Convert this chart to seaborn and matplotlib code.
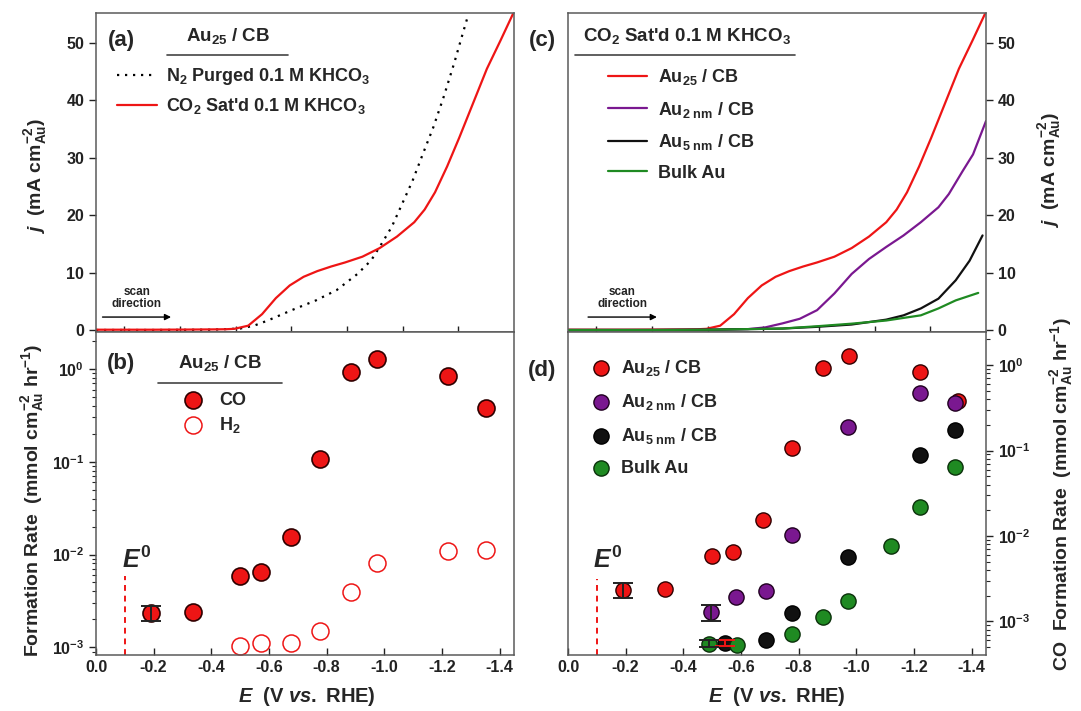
import numpy as np
import matplotlib
matplotlib.use("Agg")
import matplotlib.pyplot as plt
from matplotlib.ticker import FuncFormatter, NullFormatter, LogLocator
import seaborn as sns

# ---------------- data ----------------
# (a)/(c) Au25/CB in CO2-saturated KHCO3
E_au25 = [0.0, -0.1, -0.2, -0.3, -0.4, -0.45, -0.48, -0.528, -0.576, -0.624, -0.672, -0.72,
          -0.768, -0.816, -0.864, -0.924, -0.984, -1.044, -1.104, -1.14, -1.176, -1.218,
          -1.26, -1.308, -1.356, -1.404, -1.446]
j_au25 = [0.1, 0.1, 0.1, 0.12, 0.15, 0.18, 0.25, 0.8, 2.8, 5.6, 7.8, 9.3,
          10.3, 11.1, 11.8, 12.8, 14.3, 16.3, 18.8, 21.0, 24.0, 28.5,
          33.5, 39.5, 45.5, 50.5, 55.0]
# (a) Au25/CB in N2-purged KHCO3
E_n2 = [0.0, -0.2, -0.4, -0.5, -0.548, -0.596, -0.679, -0.763, -0.835, -0.907, -0.955,
        -0.990, -1.026, -1.062, -1.098, -1.134, -1.170, -1.206, -1.242, -1.272, -1.292]
j_n2 = [0.05, 0.05, 0.1, 0.3, 0.8, 1.7, 3.5, 5.2, 7.0, 9.8, 12.2,
        15.0, 18.0, 22.0, 26.0, 30.7, 35.3, 40.6, 46.4, 51.6, 55.0]
# (c) other catalysts
E_2nm = [0.0, -0.3, -0.5, -0.624, -0.684, -0.744, -0.804, -0.864, -0.924, -0.984, -1.044,
         -1.104, -1.164, -1.224, -1.285, -1.321, -1.369, -1.405, -1.45]
j_2nm = [0.05, 0.05, 0.1, 0.2, 0.5, 1.2, 2.0, 3.5, 6.4, 9.8, 12.4,
         14.5, 16.5, 18.8, 21.4, 23.7, 27.7, 30.6, 36.4]
E_5nm = [0.0, -0.3, -0.5, -0.624, -0.744, -0.864, -0.984, -1.104, -1.164, -1.224, -1.285,
         -1.345, -1.393, -1.438]
j_5nm = [0.05, 0.05, 0.1, 0.2, 0.3, 0.6, 1.0, 1.85, 2.6, 3.8, 5.5, 8.7, 12.1, 16.5]
E_bulk = [0.0, -0.3, -0.5, -0.744, -0.864, -0.984, -1.104, -1.224, -1.285, -1.345, -1.423]
j_bulk = [0.05, 0.05, 0.1, 0.3, 0.7, 1.15, 1.7, 2.6, 3.8, 5.2, 6.5]

# (b)/(d) formation rates
E_co = [-0.19, -0.337, -0.498, -0.574, -0.676, -0.776, -0.884, -0.974, -1.22, -1.352]
CO_au25 = [2.32e-3, 2.42e-3, 5.87e-3, 6.5e-3, 1.53e-2, 0.107, 0.936, 1.27, 0.83, 0.377]
E_h2 = [-0.498, -0.574, -0.676, -0.776, -0.884, -0.974, -1.22, -1.352]
H2_au25 = [1.03e-3, 1.12e-3, 1.12e-3, 1.5e-3, 3.98e-3, 8.17e-3, 1.10e-2, 1.12e-2]
err_au25 = [1.9e-3, 2.8e-3]  # low, high of first point

E_co2nm = [-0.496, -0.583, -0.686, -0.777, -0.972, -1.222, -1.341]
CO_2nm = [1.28e-3, 1.91e-3, 2.25e-3, 1.02e-2, 0.188, 0.473, 0.36]
err_2nm = [1.02e-3, 1.54e-3]
E_co5nm = [-0.545, -0.686, -0.777, -0.972, -1.222, -1.341]
CO_5nm = [5.66e-4, 6.08e-4, 1.25e-3, 5.66e-3, 8.9e-2, 0.175]
err_5nm = [5.2e-4, 6.1e-4]
E_cobulk = [-0.49, -0.585, -0.777, -0.886, -0.972, -1.12, -1.222, -1.341]
CO_bulk = [5.46e-4, 5.31e-4, 7.1e-4, 1.12e-3, 1.75e-3, 7.6e-3, 2.19e-2, 6.37e-2]
err_bulk = [5.0e-4, 6.0e-4]

E0 = -0.10
x_ticks = [0.0, -0.2, -0.4, -0.6, -0.8, -1.0, -1.2, -1.4]
x_ticks_top = [-0.097, -0.291, -0.484, -0.677, -0.871, -1.064, -1.256]
j_ticks = [0, 10, 20, 30, 40, 50]

# ---------------- style ----------------
sns.set_theme(style="ticks")
plt.rcParams['font.family'] = ['Liberation Sans', 'DejaVu Sans']
plt.rcParams['font.weight'] = 'bold'
plt.rcParams['axes.unicode_minus'] = False
plt.rcParams['mathtext.fontset'] = 'custom'
plt.rcParams['mathtext.rm'] = 'Liberation Sans:bold'
plt.rcParams['mathtext.bf'] = 'Liberation Sans:bold'
plt.rcParams['mathtext.it'] = 'Liberation Sans:italic:bold'
plt.rcParams['mathtext.default'] = 'bf'

RED = '#ee1515'
PURPLE = '#7a1890'
BLACK = '#111111'
GREEN = '#1f8a22'
SPINE = '#5a5a5a'

W, H = 1081, 711
fig = plt.figure(figsize=(W / 100, H / 100), dpi=100)
fig.patch.set_facecolor('white')


def ax_at(x0, y0, x1, y1):
    return fig.add_axes([x0 / W, 1 - y1 / H, (x1 - x0) / W, (y1 - y0) / H])


axA = ax_at(96, 13, 514, 332)
axB = ax_at(96, 332, 514, 655)
axC = ax_at(568, 13, 986, 332)
axD = ax_at(568, 332, 986, 655)

for ax in (axA, axB, axC, axD):
    for s in ax.spines.values():
        s.set_color(SPINE)
        s.set_linewidth(1.1)
        s.set_zorder(5)
    ax.set_xlim(0, -1.45)
    ax.tick_params(colors='#222222', labelsize=11.5, width=1, length=5)

logfmt = FuncFormatter(lambda v, p: r"$\mathbf{10^{%d}}$" % int(round(np.log10(v))))

# ---- (a) ----
sns.lineplot(x=E_n2, y=j_n2, ax=axA, color='black', lw=1.6, linestyle=(0, (1, 2.6)),
             label=r'N$_2$ Purged 0.1 M KHCO$_3$', sort=False)
sns.lineplot(x=E_au25, y=j_au25, ax=axA, color=RED, lw=1.6,
             label=r"CO$_2$ Sat'd 0.1 M KHCO$_3$", sort=False)
axA.set_ylim(-0.3, 55.2)
axA.set_yticks(j_ticks)
axA.set_xticks(x_ticks_top)
axA.tick_params(axis='x', direction='inout', labelbottom=False, length=8)
axA.legend(loc='upper left', bbox_to_anchor=(0.05, 0.833), frameon=False, fontsize=13,
           handlelength=2.2, handletextpad=0.5, labelspacing=0.5, borderpad=0, borderaxespad=0)
axA.text(0.06, 0.915, '(a)', transform=axA.transAxes, fontsize=16, ha='center', va='center')
axA.text(0.316, 0.928, r'Au$_{25}$ / CB', transform=axA.transAxes, fontsize=13.5,
         ha='center', va='center')
axA.plot([0.17, 0.459], [0.868, 0.868], transform=axA.transAxes, color='#444444', lw=1.2)

# ---- (c) ----
sns.lineplot(x=E_au25, y=j_au25, ax=axC, color=RED, lw=1.6, label=r'Au$_{25}$ / CB', sort=False)
sns.lineplot(x=E_2nm, y=j_2nm, ax=axC, color=PURPLE, lw=1.6, label=r'Au$_{2\ nm}$ / CB', sort=False)
sns.lineplot(x=E_5nm, y=j_5nm, ax=axC, color=BLACK, lw=1.6, label=r'Au$_{5\ nm}$ / CB', sort=False)
sns.lineplot(x=E_bulk, y=j_bulk, ax=axC, color=GREEN, lw=1.6, label='Bulk Au', sort=False)
axC.set_ylim(-0.3, 55.2)
axC.set_yticks(j_ticks)
axC.yaxis.tick_right()
axC.set_xticks(x_ticks_top)
axC.tick_params(axis='x', direction='inout', labelbottom=False, length=8)
axC.legend(loc='upper left', bbox_to_anchor=(0.095, 0.83), frameon=False, fontsize=13,
           handlelength=2.2, handletextpad=0.6, labelspacing=0.69, borderpad=0, borderaxespad=0)
axC.text(-0.062, 0.915, '(c)', transform=axC.transAxes, fontsize=16, ha='center', va='center')
axC.text(0.285, 0.928, r"CO$_2$ Sat'd 0.1 M KHCO$_3$", transform=axC.transAxes, fontsize=13.5,
         ha='center', va='center')
axC.plot([0.017, 0.543], [0.868, 0.868], transform=axC.transAxes, color='#444444', lw=1.2)

# scan direction arrows
for ax, x0, x1 in ((axA, -0.013, -0.27), (axC, -0.06, -0.318)):
    ax.annotate('', xy=(x1, 2.3), xytext=(x0, 2.3),
                arrowprops=dict(arrowstyle='-|>', color='black', lw=1.0, mutation_scale=9))
    ax.text((x0 + x1) / 2, 5.6, 'scan\ndirection', fontsize=8.5, ha='center', va='center',
            linespacing=1.05, color='#222222')

# ---- (b) ----
axB.set_yscale('log')
axB.errorbar(E_co[0], CO_au25[0], yerr=[[CO_au25[0] - err_au25[0]], [err_au25[1] - CO_au25[0]]],
             fmt='none', ecolor='#222222', capsize=7, elinewidth=1.4, capthick=1.4, zorder=4)
sns.scatterplot(x=E_co, y=CO_au25, ax=axB, s=150, color=RED, edgecolor='#300000',
                linewidth=1.2, label='CO', zorder=3)
sns.scatterplot(x=E_h2, y=H2_au25, ax=axB, s=150, facecolor='white', edgecolor=RED,
                linewidth=1.1, label=r'H$_2$', zorder=3)
axB.set_ylim(8.26e-4, 2.5)
axB.set_xlim(0, -1.45)
axB.set_xticks(x_ticks)
axB.xaxis.set_major_formatter(FuncFormatter(lambda v, p: '0.0' if abs(v) < 1e-9 else '%.1f' % v))
axB.yaxis.set_major_locator(LogLocator(base=10, numticks=10))
axB.yaxis.set_major_formatter(logfmt)
axB.yaxis.set_minor_formatter(NullFormatter())
axB.tick_params(axis='x', direction='in', length=5)
axB.tick_params(axis='y', which='minor', length=3, width=0.8)
axB.plot([E0, E0], [8.26e-4, 5.8e-3], ls=(0, (3, 2.5)), color=RED, lw=1.4)
axB.text(E0 - 0.04, 8.7e-3, r'$\mathit{E}^{\mathbf{0}}$', fontsize=18, ha='center', va='center')
axB.legend(loc='upper left', bbox_to_anchor=(0.19, 0.815), frameon=False, fontsize=13,
           handletextpad=0.4, labelspacing=0.35, borderpad=0, borderaxespad=0, markerscale=1)
axB.text(0.06, 0.904, '(b)', transform=axB.transAxes, fontsize=16, ha='center', va='center')
axB.text(0.297, 0.904, r'Au$_{25}$ / CB', transform=axB.transAxes, fontsize=13.5,
         ha='center', va='center')
axB.plot([0.148, 0.445], [0.843, 0.843], transform=axB.transAxes, color='#444444', lw=1.2)

# ---- (d) ----
axD.set_yscale('log')
for ex, ey, er, ec in ((E_co[0], CO_au25[0], err_au25, '#222222'),
                       (E_co2nm[0], CO_2nm[0], err_2nm, '#222222'),
                       (E_co5nm[0], CO_5nm[0], err_5nm, RED),
                       (E_cobulk[0], CO_bulk[0], err_bulk, '#222222')):
    axD.errorbar(ex, ey, yerr=[[ey - er[0]], [er[1] - ey]], fmt='none', ecolor=ec,
                 capsize=7, elinewidth=1.4, capthick=1.4, zorder=4)
sns.scatterplot(x=E_co, y=CO_au25, ax=axD, s=120, color=RED, edgecolor='#300000',
                linewidth=1.0, label=r'Au$_{25}$ / CB', zorder=3)
sns.scatterplot(x=E_co2nm, y=CO_2nm, ax=axD, s=120, color=PURPLE, edgecolor='#200020',
                linewidth=1.0, label=r'Au$_{2\ nm}$ / CB', zorder=3)
sns.scatterplot(x=E_co5nm, y=CO_5nm, ax=axD, s=120, color=BLACK, edgecolor='#000000',
                linewidth=1.0, label=r'Au$_{5\ nm}$ / CB', zorder=3)
sns.scatterplot(x=E_cobulk, y=CO_bulk, ax=axD, s=120, color=GREEN, edgecolor='#0a300a',
                linewidth=1.0, label='Bulk Au', zorder=3)
axD.set_ylim(4.05e-4, 2.44)
axD.set_xlim(0, -1.45)
axD.set_xticks(x_ticks)
axD.xaxis.set_major_formatter(FuncFormatter(lambda v, p: '0.0' if abs(v) < 1e-9 else '%.1f' % v))
axD.yaxis.tick_right()
axD.yaxis.set_major_locator(LogLocator(base=10, numticks=10))
axD.yaxis.set_major_formatter(logfmt)
axD.yaxis.set_minor_formatter(NullFormatter())
axD.tick_params(axis='x', direction='in', length=5)
axD.tick_params(axis='y', which='minor', length=3, width=0.8)
axD.plot([E0, E0], [4.05e-4, 3.1e-3], ls=(0, (3, 2.5)), color=RED, lw=1.4)
axD.text(E0 - 0.037, 5.3e-3, r'$\mathit{E}^{\mathbf{0}}$', fontsize=18, ha='center', va='center')
axD.legend(loc='upper left', bbox_to_anchor=(0.035, 0.919), frameon=False, fontsize=13,
           handletextpad=0.1, labelspacing=0.77, borderpad=0, borderaxespad=0, markerscale=1)
axD.text(-0.062, 0.88, '(d)', transform=axD.transAxes, fontsize=16, ha='center', va='center')

for ax in (axA, axB, axC, axD):
    ax.set_ylabel('')
    ax.set_xlabel('')

# ---- axis labels ----
jlab = r'$\mathit{j}$  (mA cm$^{-2}_{Au}$)'
fig.text(36 / W, 1 - 176 / H, jlab, rotation=90, ha='center', va='center', fontsize=14)
fig.text(1050 / W, 1 - 170 / H, jlab, rotation=90, ha='center', va='center', fontsize=14)
fig.text(33 / W, 1 - 500 / H, r'Formation Rate  (mmol cm$^{-2}_{Au}$ hr$^{-1}$)', rotation=90,
         ha='center', va='center', fontsize=14)
fig.text(1062 / W, 1 - 494 / H, r'CO  Formation Rate  (mmol cm$^{-2}_{Au}$ hr$^{-1}$)',
         rotation=90, ha='center', va='center', fontsize=14)
xlab = r'$\mathit{E}$  (V $\mathit{vs.}$ RHE)'
fig.text(307 / W, 1 - 697 / H, xlab, ha='center', va='center', fontsize=14.5)
fig.text(777 / W, 1 - 697 / H, xlab, ha='center', va='center', fontsize=14.5)

fig.savefig('out.png', dpi=100, facecolor='white')
